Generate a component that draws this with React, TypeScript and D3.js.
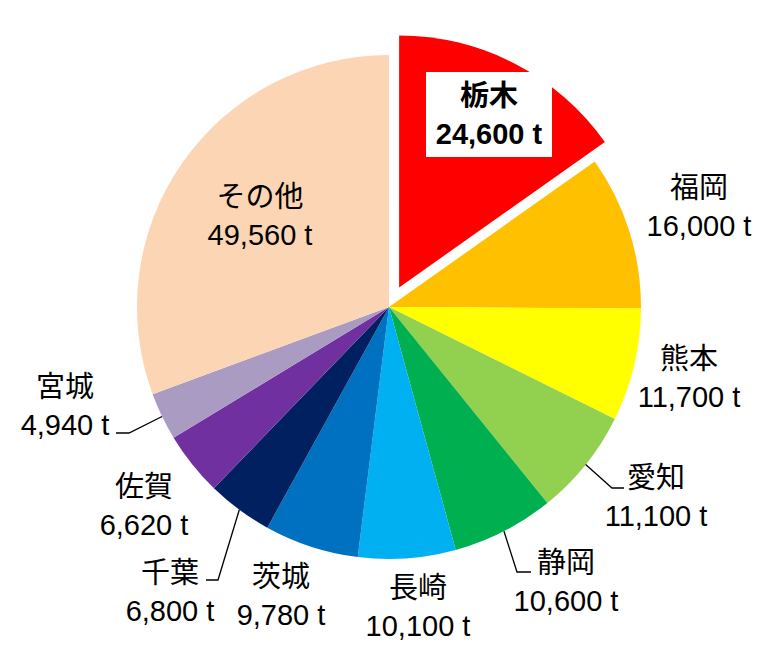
import React from "react"
import * as d3 from "d3"

// 都道府県別の収穫量
const prefectures = ["栃木", "福岡", "熊本", "愛知", "静岡", "長崎", "茨城", "千葉", "佐賀", "宮城", "その他"]
const tons = [24600, 16000, 11700, 11100, 10600, 10100, 9780, 6800, 6620, 4940, 49560]
const colors = ["#FF0000", "#FFC000", "#FFFF00", "#92D050", "#00B050", "#00B0F0", "#0070C0", "#002060", "#7030A0", "#A99BC1", "#FCD5B4"]

// label centres and leader elbows (layout only)
const labelPos: [number, number][] = [
  [489, 115], [699, 207], [689, 378], [656, 497], [566, 582], [418, 607],
  [281, 596], [170, 592], [144, 506], [65, 406], [260, 216],
]
const leaders: ([number, number][] | null)[] = [
  null, null, null,
  [[612, 488], [624, 488]],
  [[517, 572], [531, 572]],
  null, null,
  [[218, 580], [206, 580]],
  null,
  [[129, 433], [116, 433]],
  null,
]

const W = 778
const H = 651
const cx = 389
const cy = 307
const R = 252
const explode = 22
const font = "'Liberation Sans', Arial, 'Noto Sans CJK JP', sans-serif"

export default function App() {
  const data = prefectures.map((name, i) => ({ name, value: tons[i], i }))
  const arcs = d3.pie<any>().sort(null).value(d => d.value)(data)
  const arc = d3.arc<any>().innerRadius(0).outerRadius(R)
  const rim = d3.arc<any>().innerRadius(R).outerRadius(R)

  const fmt = d3.format(",")

  return (
    <svg width={W} height={H} style={{ position: "absolute", left: 0, top: 0, display: "block" }}>
      <rect width={W} height={H} fill="#fff" />
      <g transform={`translate(${cx},${cy})`}>
        {arcs.map((a, i) => {
          const mid = (a.startAngle + a.endAngle) / 2
          const off = i === 0 ? explode : 0
          const dx = Math.sin(mid) * off
          const dy = -Math.cos(mid) * off
          return (
            <path key={i} d={arc(a) as string} fill={colors[i]} transform={`translate(${dx},${dy})`} />
          )
        })}
      </g>
      {arcs.map((a, i) => {
        const pts = leaders[i]
        if (!pts) return null
        const [sx, sy] = rim.centroid(a)
        const line = d3.line()([[sx + cx, sy + cy], ...pts])
        return <path key={"l" + i} d={line as string} fill="none" stroke="#000" strokeWidth={1.3} />
      })}
      {data.map((d, i) => {
        const [x, y] = labelPos[i]
        const bold = i === 0
        return (
          <g key={"t" + i} fontFamily={font} fontSize={29} fontWeight={bold ? 700 : 400} textAnchor="middle" fill="#000">
            {bold && <rect x={x - 63} y={y - 43} width={126} height={85} fill="#fff" />}
            <text x={x} y={y - 19} dy="0.36em">{d.name}</text>
            <text x={x} y={y + 19} dy="0.36em">{fmt(d.value)} t</text>
          </g>
        )
      })}
    </svg>
  )
}
